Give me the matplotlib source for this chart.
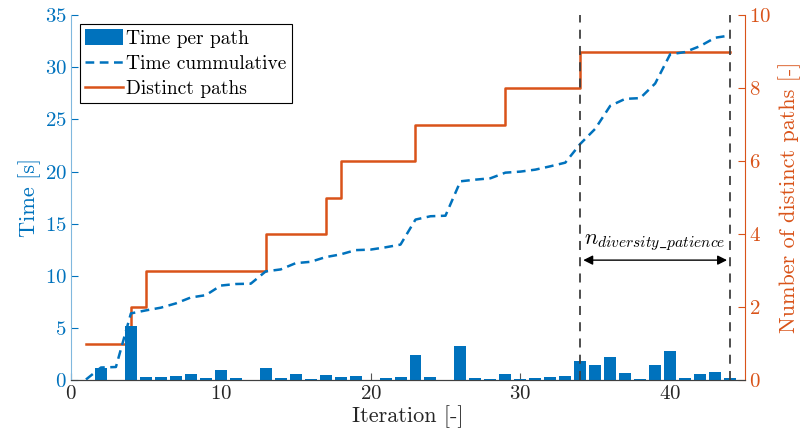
import numpy as np
import matplotlib
matplotlib.use("Agg")
import matplotlib.pyplot as plt

plt.rcParams['font.family'] = 'serif'
plt.rcParams['font.serif'] = ['cmr10']
plt.rcParams['mathtext.fontset'] = 'cm'
plt.rcParams['axes.formatter.use_mathtext'] = True

blue = "#0072BD"
orange = "#D95319"

iterations = np.arange(1, 45)
time_per_path = [0.05, 1.15, 0.05, 5.14, 0.29, 0.26, 0.41, 0.57, 0.22, 0.92,
                 0.15, 0.03, 1.18, 0.19, 0.60, 0.13, 0.45, 0.26, 0.41, 0.05,
                 0.22, 0.26, 2.40, 0.32, 0.05, 3.30, 0.16, 0.13, 0.54, 0.10,
                 0.19, 0.32, 0.35, 1.80, 1.45, 2.20, 0.67, 0.07, 1.40, 2.80,
                 0.22, 0.57, 0.80, 0.22]
distinct_paths = [1, 1, 1, 2, 3, 3, 3, 3, 3, 3,
                  3, 3, 4, 4, 4, 4, 5, 6, 6, 6,
                  6, 6, 7, 7, 7, 7, 7, 7, 8, 8,
                  8, 8, 8, 9, 9, 9, 9, 9, 9, 9,
                  9, 9, 9, 9]
patience_start = 34
patience_end = 44

time_cum = np.cumsum(time_per_path)

fig = plt.figure(figsize=(8.03, 4.45), dpi=100)
ax = fig.add_axes([0.0884, 0.146, 0.8394, 0.82])
ax2 = ax.twinx()

b = ax.bar(iterations, time_per_path, width=0.8, color=blue, label="Time per path", zorder=2)
l1, = ax.plot(iterations, time_cum, color=blue, lw=1.8, ls=(0, (3.5, 2.2)),
              label="Time cummulative", zorder=3)
l2, = ax2.step(iterations, distinct_paths, where='post', color=orange, lw=1.8,
               label="Distinct paths", zorder=3)

for xv in [patience_start, patience_end]:
    ax.axvline(xv, color="#404040", lw=1.3, ls=(0, (5, 4)), zorder=4)

ax.annotate("", xy=(patience_end - 0.2, 11.5), xytext=(patience_start + 0.2, 11.5),
            arrowprops=dict(arrowstyle="<|-|>", color="black", lw=1.0,
                            mutation_scale=14, shrinkA=0, shrinkB=0))
ax.text((patience_start + patience_end) / 2, 12.2, r"$n_{diversity\_patience}$",
        ha="center", va="bottom", fontsize=16)

ax.set_xlim(0, 45)
ax.set_ylim(0, 35)
ax2.set_ylim(0, 10)
ax.set_xticks([0, 10, 20, 30, 40])
ax.set_yticks(np.arange(0, 36, 5))
ax2.set_yticks(np.arange(0, 11, 2))

ax.set_xlabel("Iteration [-]", fontsize=16, color="#262626", labelpad=2)
ax.set_ylabel("Time [s]", fontsize=16, color=blue, labelpad=3)
ax2.set_ylabel("Number of distinct paths [-]", fontsize=16, color=orange, labelpad=5)

for a in (ax, ax2):
    a.spines['top'].set_visible(False)
ax.spines['left'].set_color("#80B8DE")
ax.spines['right'].set_visible(False)
ax2.spines['left'].set_visible(False)
ax2.spines['right'].set_color(orange)
ax2.spines['bottom'].set_color("#404040")
ax.spines['bottom'].set_color("#404040")

ax.tick_params(axis='x', direction='in', colors="#262626", labelsize=15, length=5, color="#555555")
ax.tick_params(axis='y', direction='in', colors=blue, labelsize=15, length=5, pad=3)
ax2.tick_params(axis='y', direction='in', colors=orange, labelsize=15, length=5, pad=3)

ax.set_zorder(ax2.get_zorder() + 1)
ax.patch.set_visible(False)

leg = ax.legend(handles=[b, l1, l2], loc="upper left", fontsize=14,
                bbox_to_anchor=(0.013, 0.975), fancybox=False, edgecolor="black",
                framealpha=1, borderpad=0.25, labelspacing=0.32, handlelength=2.0,
                handleheight=0.9, handletextpad=0.15, borderaxespad=0)
leg.get_frame().set_linewidth(0.8)

fig.savefig("out.png", dpi=100)
